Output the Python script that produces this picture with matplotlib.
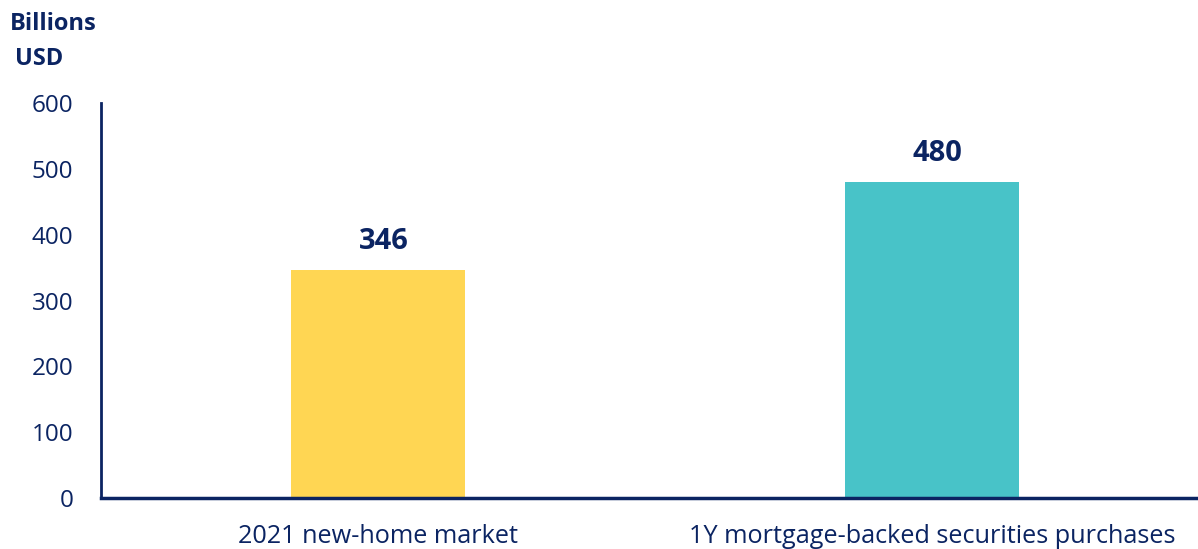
"""
Bar chart: 2021 new-home market vs 1Y mortgage-backed securities purchases.
"""

import matplotlib.pyplot as plt

categories = ["2021 new-home market", "1Y mortgage-backed securities purchases"]
values = [346, 480]
bar_colors = ["#FFD653", "#48C3C8"]
yticks = [0, 100, 200, 300, 400, 500, 600]

NAVY = "#0B2462"

plt.rcParams["font.family"] = ["Open Sans", "DejaVu Sans"]


def plot_chart(output_file="out.png"):
    fig = plt.figure(figsize=(11.98, 5.49), dpi=100)
    ax = fig.add_axes([101 / 1198, 1 - 498 / 549, 1097 / 1198, 395 / 549])

    x = list(range(len(categories)))
    ax.bar(x, values, width=0.314, color=bar_colors)

    # value labels above the bars
    for xi, v in zip(x, values):
        ax.text(xi + 0.01, v + 22, str(v), ha="center", va="bottom",
                fontsize=21, fontweight="bold", color=NAVY)

    ax.set_xlim(-0.5, 1.48)
    ax.set_ylim(0, 600)
    ax.set_yticks(yticks)
    ax.set_xticks(x)
    ax.set_xticklabels(categories)
    ax.tick_params(axis="y", length=0, labelsize=17.5, labelcolor=NAVY, pad=20)
    ax.tick_params(axis="x", length=0, labelsize=18.2, labelcolor=NAVY, pad=19)

    for side in ["top", "right"]:
        ax.spines[side].set_visible(False)
    ax.spines["left"].set_color(NAVY)
    ax.spines["left"].set_linewidth(2)
    ax.spines["bottom"].set_color(NAVY)
    ax.spines["bottom"].set_linewidth(2.5)

    fig.text(10 / 1198, 1 - 24 / 549, "Billions", ha="left", va="center",
             fontsize=17, fontweight="bold", color=NAVY)
    fig.text(15 / 1198, 1 - 59 / 549, "USD", ha="left", va="center",
             fontsize=17, fontweight="bold", color=NAVY)

    fig.savefig(output_file, dpi=100)


if __name__ == "__main__":
    plot_chart()
